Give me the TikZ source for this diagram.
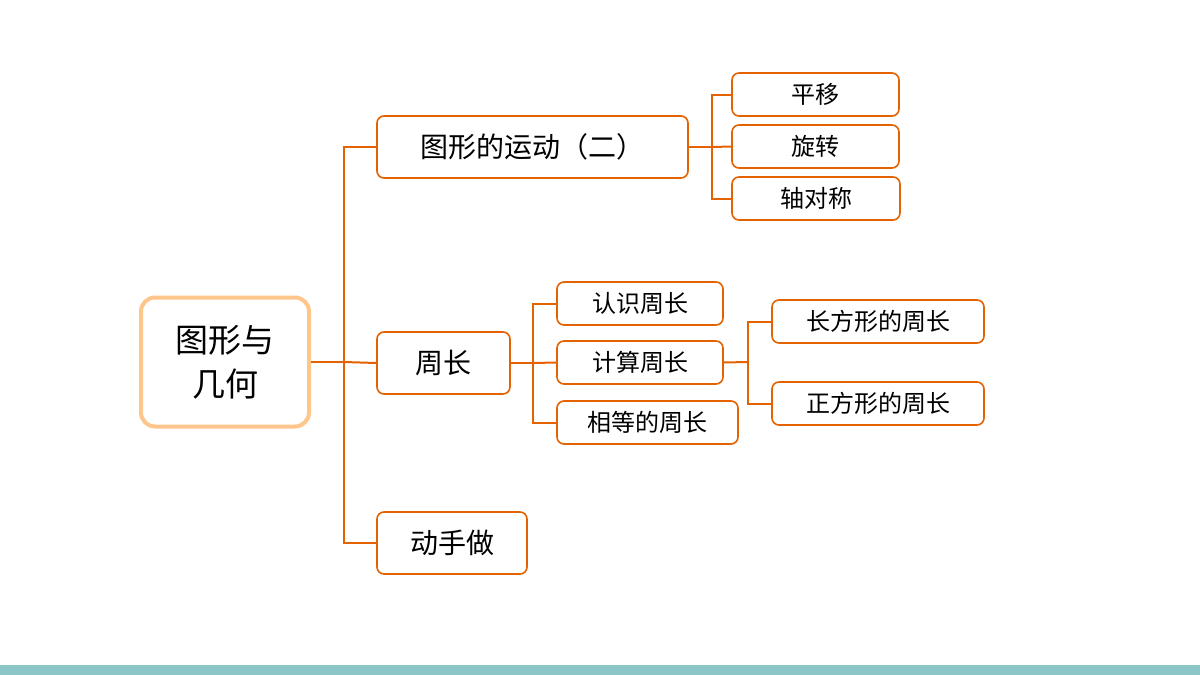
\documentclass[tikz,border=0pt]{standalone}
\usepackage{fontspec}
\newfontfamily\cjk{Noto Sans CJK SC}[BoldFont={Noto Sans CJK SC Bold}]
\begin{document}
\begin{tikzpicture}[x=1pt,y=-1pt,
  box/.style={draw=orange!85!red!90!black, line width=1.6pt, rounded corners=7pt, fill=white, inner sep=0pt, font=\cjk\fontsize{24}{28}\selectfont},
  big/.style={box, font=\cjk\fontsize{28}{32}\selectfont},
  ln/.style={draw=orange!85!red!90!black, line width=2pt}]
\useasboundingbox (0,0) rectangle (1200,675);
\fill[white] (0,0) rectangle (1200,675);
\fill[teal!45!white] (0,665) rectangle (1200,675);
\node[draw=orange!45!white, line width=4pt, rounded corners=14pt, fill=white, minimum width=168pt, minimum height=129pt, align=center, font=\cjk\fontsize{33}{44}\selectfont] (root) at (225,362) {图形与\\几何};
\node[big, minimum width=311pt, minimum height=62pt] (a) at (532.5,147) {图形的运动（二）};
\node[big, minimum width=133pt, minimum height=62pt] (b) at (443.5,363) {周长};
\node[big, minimum width=150pt, minimum height=62pt] (c) at (452,543) {动手做};
\node[box, minimum width=167pt, minimum height=43pt] (a1) at (815.5,94.5) {平移};
\node[box, minimum width=167pt, minimum height=43pt] (a2) at (815.5,146.5) {旋转};
\node[box, minimum width=168pt, minimum height=43pt] (a3) at (816,198.5) {轴对称};
\node[box, minimum width=166pt, minimum height=43pt] (b1) at (640,303.5) {认识周长};
\node[box, minimum width=166pt, minimum height=43pt] (b2) at (640,362.5) {计算周长};
\node[box, minimum width=181pt, minimum height=43pt] (b3) at (647.5,422.5) {相等的周长};
\node[box, minimum width=212pt, minimum height=43pt] (c1) at (878,321.5) {长方形的周长};
\node[box, minimum width=212pt, minimum height=43pt] (c2) at (878,403.5) {正方形的周长};
\coordinate (t0) at (344,362);
\coordinate (ta) at (712,147);
\coordinate (tb) at (533,363);
\coordinate (tc) at (748,362);
\begin{scope}[on background layer/.try]
\draw[ln] (root.east) -- (t0);
\draw[ln] (a.west) -| (t0) |- (c.west);
\draw[ln] (t0) -- (b.west);
\draw[ln] (a.east) -- (ta);
\draw[ln] (a1.west) -| (ta) |- (a3.west);
\draw[ln] (ta) -- (a2.west);
\draw[ln] (b.east) -- (tb);
\draw[ln] (b1.west) -| (tb) |- (b3.west);
\draw[ln] (tb) -- (b2.west);
\draw[ln] (b2.east) -- (tc);
\draw[ln] (c1.west) -| (tc) |- (c2.west);
\end{scope}
\end{tikzpicture}
\end{document}
